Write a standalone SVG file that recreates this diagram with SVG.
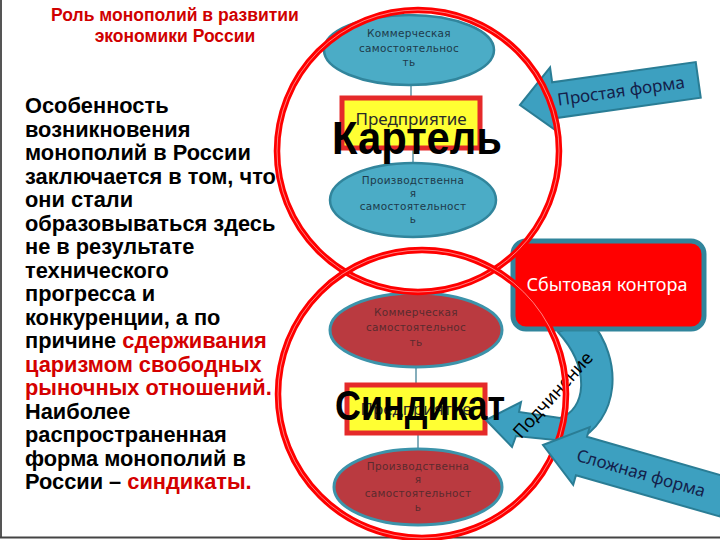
<svg xmlns="http://www.w3.org/2000/svg" width="720" height="540" viewBox="0 0 720 540">
<defs>
<style>
.title{font-family:"Liberation Sans",Arial,sans-serif;font-weight:bold;font-size:17.5px;fill:#D00000;text-anchor:middle}
.body{font-family:"Liberation Sans",Arial,sans-serif;font-weight:bold;font-size:21.8px;fill:#000}
.red{fill:#D40000}
.ell-b{fill:#4BACC6;stroke:#31859C;stroke-width:2.5}
.ell-r{fill:#BA3A40;stroke:#3C93AA;stroke-width:3}
.small{font-family:"DejaVu Sans",sans-serif;font-size:10.5px;text-anchor:middle;letter-spacing:0.3px}
.sb{fill:#1E3A4A}
.sr{fill:#5A2A2E}
.box{fill:#FFFF33;stroke:#E52A2A;stroke-width:5}
.boxt{font-family:"Noto Sans",sans-serif;font-size:17px;fill:#2A2A2A;text-anchor:middle}
.conn{stroke:#5C93A6;stroke-width:1.5;fill:none}
.ring{fill:none;stroke:#FF0000;stroke-width:6.5}
.ringw{fill:none;stroke:#FFFFFF;stroke-width:1;stroke-opacity:0.5}
.big{font-family:"Liberation Sans",Arial,sans-serif;font-weight:bold;fill:#000;text-anchor:middle}
.arr{fill:#3DA0C0;stroke:#2A7D95;stroke-width:2}
.arrt{font-family:"Noto Sans",sans-serif;font-size:17px;fill:#14204A;text-anchor:middle}
</style>
</defs>
<rect x="0" y="0" width="720" height="540" fill="#FFFFFF"/>
<line x1="1" y1="0" x2="1" y2="538" stroke="#555" stroke-width="2"/>
<line x1="0" y1="537.5" x2="720" y2="537.5" stroke="#444" stroke-width="2"/>

<g id="title">
<text class="title" x="175" y="21">Роль монополий в развитии</text>
<text class="title" x="175" y="42">экономики России</text>
</g>

<g id="paragraph" class="body">
<text x="25" y="113">Особенность</text>
<text x="25" y="136.5">возникновения</text>
<text x="25" y="160">монополий в России</text>
<text x="25" y="183.5">заключается в том, что</text>
<text x="25" y="207">они стали</text>
<text x="25" y="230.5">образовываться здесь</text>
<text x="25" y="254">не в результате</text>
<text x="25" y="277.5">технического</text>
<text x="25" y="301">прогресса и</text>
<text x="25" y="324.5">конкуренции, а  по</text>
<text x="25" y="348">причине <tspan class="red">сдерживания</tspan></text>
<text x="25" y="371.5" class="red">царизмом свободных</text>
<text x="25" y="395" class="red">рыночных отношений.</text>
<text x="25" y="418.5">Наиболее</text>
<text x="25" y="442">распространенная</text>
<text x="25" y="465.5">форма монополий в</text>
<text x="25" y="489">России – <tspan class="red">синдикаты.</tspan></text>
</g>

<g id="connectors">
<line class="conn" x1="411" y1="85" x2="411" y2="98"/>
<line class="conn" x1="413" y1="148" x2="413" y2="163"/>
<line class="conn" x1="416" y1="367" x2="416" y2="385"/>
<line class="conn" x1="418" y1="433" x2="418" y2="449"/>
</g>

<g id="kartel-commerce">
<ellipse class="ell-b" cx="409" cy="50" rx="85" ry="35"/>
<text class="small sb" x="409" y="37">Коммерческая</text>
<text class="small sb" x="409" y="52">самостоятельнос</text>
<text class="small sb" x="409" y="66">ть</text>
</g>

<g id="kartel-enterprise">
<rect class="box" x="342" y="98" width="138" height="50"/>
<text class="boxt" x="411" y="125">Предприятие</text>
</g>

<g id="kartel-production">
<ellipse class="ell-b" cx="413" cy="200" rx="83" ry="37"/>
<text class="small sb" x="413" y="184">Производственна</text>
<text class="small sb" x="413" y="197">я</text>
<text class="small sb" x="413" y="210">самостоятельност</text>
<text class="small sb" x="413" y="223">ь</text>
</g>

<g id="sindikat-commerce">
<ellipse class="ell-r" cx="416" cy="330" rx="86" ry="37"/>
<text class="small sr" x="416" y="316">Коммерческая</text>
<text class="small sr" x="416" y="331">самостоятельнос</text>
<text class="small sr" x="416" y="346">ть</text>
</g>

<g id="sindikat-enterprise">
<rect class="box" x="347" y="385" width="138" height="48"/>
<text class="boxt" x="416" y="415">Предприятие</text>
</g>

<g id="sindikat-production">
<ellipse class="ell-r" cx="418" cy="487" rx="84" ry="38"/>
<text class="small sr" x="418" y="470">Производственна</text>
<text class="small sr" x="418" y="483">я</text>
<text class="small sr" x="418" y="497">самостоятельност</text>
<text class="small sr" x="418" y="511">ь</text>
</g>

<g id="simple-form" transform="translate(520,105) rotate(-8)">
<path class="arr" d="M0,0 L35,-33 L35,-18 L180,-18 L180,18 L35,18 L35,33 Z"/>
<text class="arrt" x="102" y="6">Простая форма</text>
</g>

<g id="sales-office">
<path class="arr" d="M486,420 L521,402 L519,412 L560,418 C585,410 592,370 558,332 L590,320 C624,360 620,420 575,442 L516,436 L512,447 Z"/>
<rect x="513" y="241" width="191" height="88" rx="13" fill="#FF0000" stroke="#31859C" stroke-width="5"/>
<text x="607" y="291" font-family="Noto Sans, sans-serif" font-size="18" fill="#FFFFFF" text-anchor="middle">Сбытовая контора</text>
</g>

<g id="subordination-label">
<text x="553" y="401" font-family="Noto Sans, sans-serif" font-size="18" fill="#000" text-anchor="middle" transform="rotate(-48 553 395)">Подчинение</text>
</g>

<g id="rings">
<circle class="ring" cx="418" cy="151" r="141"/>
<circle class="ringw" cx="418" cy="151" r="141"/>
<circle class="ring" cx="422" cy="394" r="144"/>
<circle class="ringw" cx="422" cy="394" r="144"/>
</g>

<g id="complex-form" transform="translate(543,445) rotate(16)">
<path class="arr" d="M0,0 L40,-30 L40,-20 L190,-20 L190,20 L40,20 L40,30 Z"/>
<text class="arrt" x="102" y="6">Сложная  форма</text>
</g>

<g id="kartel-label">
<text class="big" x="417" y="154" font-size="46" textLength="170" lengthAdjust="spacingAndGlyphs">Картель</text>
</g>
<g id="sindikat-label">
<text class="big" x="420" y="420" font-size="43" textLength="170" lengthAdjust="spacingAndGlyphs">Синдикат</text>
</g>
</svg>
